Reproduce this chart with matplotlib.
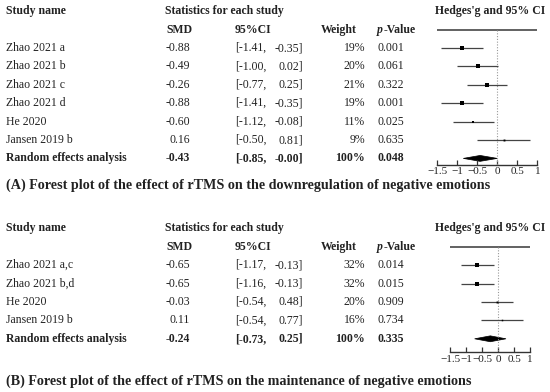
import matplotlib
matplotlib.use("Agg")
import matplotlib.pyplot as plt
from matplotlib.patches import Polygon

plt.rcParams["font.family"] = ["Liberation Serif", "DejaVu Serif"]

# Panel A: downregulation
a_names = ["Zhao 2021 a", "Zhao 2021 b", "Zhao 2021 c", "Zhao 2021 d", "He 2020", "Jansen 2019 b"]
a_smd = [-0.88, -0.49, -0.26, -0.88, -0.60, 0.16]
a_lo = [-1.41, -1.00, -0.77, -1.41, -1.12, -0.50]
a_hi = [-0.35, 0.02, 0.25, -0.35, -0.08, 0.81]
a_w = [19, 20, 21, 19, 11, 9]
a_p = ["0.001", "0.061", "0.322", "0.001", "0.025", "0.635"]
a_pool = (-0.43, -0.85, -0.00, 100, "0.048")

# Panel B: maintenance
b_names = ["Zhao 2021 a,c", "Zhao 2021 b,d", "He 2020", "Jansen 2019 b"]
b_smd = [-0.65, -0.65, -0.03, 0.11]
b_lo = [-1.17, -1.16, -0.54, -0.54]
b_hi = [-0.13, -0.13, 0.48, 0.77]
b_w = [32, 32, 20, 16]
b_p = ["0.014", "0.015", "0.909", "0.734"]
b_pool = (-0.24, -0.73, 0.25, 100, "0.335")

ticks = [-1.5, -1, -0.5, 0, 0.5, 1]
tick_labels = ["\u22121.5", "\u22121", "\u22120.5", "0", "0.5", "1"]

captions = [
    "(A) Forest plot of the effect of rTMS on the downregulation of negative emotions",
    "(B) Forest plot of the effect of rTMS on the maintenance of negative emotions",
]

W, H = 550, 392
fig = plt.figure(figsize=(W / 100, H / 100), dpi=100)
bg = fig.add_axes([0, 0, 1, 1])
bg.set_xlim(0, W)
bg.set_ylim(H, 0)
bg.axis("off")

FS = 8.5
TC = "#222222"


def fmt(v):
    return f"{v:.2f}" if v != 0 else "-0.00"


def panel(names, smd, lo, hi, w, p, pool, y0, step, ax_left, ax_right, ax_bottom, msc, caption, cap_y):
    # header rows
    bg.text(6, y0 - step, "Study name", fontsize=FS, fontweight="bold", va="center", color=TC)
    bg.text(165, y0 - step, "Statistics for each study", fontsize=FS, fontweight="bold", va="center", color=TC)
    bg.text(490, y0 - step, "Hedges'g and 95% CI", fontsize=FS, fontweight="bold", va="center", ha="center", color=TC)
    bg.text(166, y0, "SMD", fontsize=FS, fontweight="bold", va="center", color=TC)
    bg.text(235, y0, "95%CI", fontsize=FS, fontweight="bold", va="center", color=TC)
    bg.text(357, y0, "Weight", fontsize=FS, fontweight="bold", va="center", ha="right", color=TC)
    bg.text(377, y0, "p", fontsize=FS, fontweight="bold", style="italic", va="center", color=TC)
    bg.text(384, y0, "-Value", fontsize=FS, fontweight="bold", va="center", color=TC)

    rows = list(zip(names, smd, lo, hi, w, p))
    rows.append(("Random effects analysis",) + pool)
    for k, (nm, s, l, h, wt, pv) in enumerate(rows, start=1):
        y = y0 + k * step
        fw = "bold" if k == len(rows) else "normal"
        bg.text(6, y, nm, fontsize=FS, fontweight=fw, va="center", color=TC)
        bg.text(190, y, f"{s:.2f}", fontsize=FS, fontweight=fw, va="center", ha="right", color=TC)
        bg.text(235, y, f"[{l:.2f},", fontsize=FS, fontweight=fw, va="center", color=TC)
        bg.text(303, y, f"{fmt(h)}]", fontsize=FS, fontweight=fw, va="center", ha="right", color=TC)
        bg.text(365, y, f"{wt}%", fontsize=FS, fontweight=fw, va="center", ha="right", color=TC)
        bg.text(378, y, pv, fontsize=FS, fontweight=fw, va="center", color=TC)

    # forest axes
    n = len(rows)
    k_top = -0.3
    k_bot = (ax_bottom - y0) / step
    top_px = y0 + k_top * step
    ax = fig.add_axes([ax_left / W, 1 - ax_bottom / H, (ax_right - ax_left) / W, (ax_bottom - top_px) / H])
    ax.set_xlim(-1.5, 1)
    ax.set_ylim(k_bot, k_top)
    ax.patch.set_alpha(0)
    for sp in ["top", "left", "right"]:
        ax.spines[sp].set_visible(False)
    ax.spines["bottom"].set_color("#333333")
    ax.spines["bottom"].set_linewidth(1.0)
    ax.set_yticks([])
    ax.set_xticks(ticks)
    ax.set_xticklabels(tick_labels)
    ax.tick_params(axis="x", direction="in", length=3.5, width=0.9, color="#333333",
                   labelsize=8, pad=2, labelcolor=TC)

    ax.hlines(0, -1.5, 1, color="#555555", lw=1.3)
    ax.vlines(0, 0, k_bot, color="#999999", lw=0.8, linestyles=(0, (1, 1.5)))

    for k, (s, l, h, wt) in enumerate(zip(smd, lo, hi, w), start=1):
        ax.errorbar(s, k, xerr=[[s - l], [h - s]], fmt="s", color="#444444", ecolor="#444444",
                    elinewidth=0.9, capsize=2.2, capthick=0.9,
                    markersize=msc * wt * 0.72, markerfacecolor="black", markeredgecolor="black", markeredgewidth=0)

    ps, pl, ph = pool[0], pool[1], pool[2]
    hh = 0.16
    ax.add_patch(Polygon([(pl, n), (ps, n - hh), (ph, n), (ps, n + hh)], closed=True,
                         facecolor="black", edgecolor="black", lw=0.5))

    bg.text(6, cap_y, caption, fontsize=10.2, fontweight="bold", va="center", color=TC)


panel(a_names, a_smd, a_lo, a_hi, a_w, a_p, a_pool, 29.6, 18.4, 437.3, 537.3, 164.7, 0.21, captions[0], 185)
panel(b_names, b_smd, b_lo, b_hi, b_w, b_p, b_pool, 246.8, 18.4, 450, 530, 352, 0.095, captions[1], 381.7)

fig.savefig("out.png", dpi=100)
